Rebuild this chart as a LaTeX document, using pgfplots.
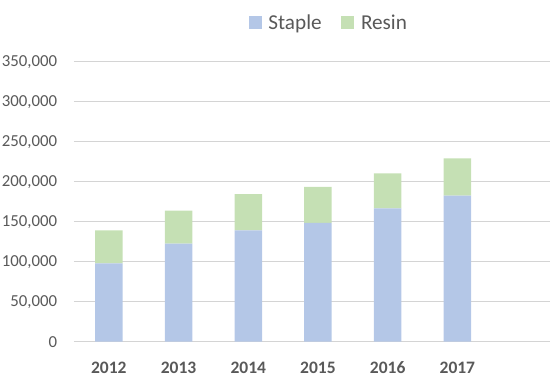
\documentclass[border=0pt]{standalone}
\usepackage{pgfplots}
\pgfplotsset{compat=1.18}
\usepackage{fontspec}
\setmainfont{Carlito}
\definecolor{staple}{HTML}{B4C7E7}
\definecolor{resin}{HTML}{C5E0B4}
\definecolor{gridc}{HTML}{D4D4D4}
\definecolor{txt}{HTML}{595959}
\begin{document}
\begin{tikzpicture}
\useasboundingbox (-74bp,-42.3bp) rectangle (476bp,341.7bp);
\begin{axis}[
  at={(0,0)}, anchor=south west,
  scale only axis, width=476bp, height=280bp,
  ybar stacked, bar width=27.5bp,
  xmin=-0.5, xmax=6.329, ymin=0, ymax=350000,
  xtick={0,1,2,3,4,5},
  xticklabels={2012,2013,2014,2015,2016,2017},
  ytick={0,50000,100000,150000,200000,250000,300000,350000},
  scaled y ticks=false,
  /pgf/number format/assume math mode=true,
  yticklabel style={/pgf/number format/fixed, /pgf/number format/1000 sep={,},
    anchor=east, inner sep=0pt, xshift=-16.7bp, font=\fontsize{16.8bp}{19bp}\selectfont, text=txt},
  xticklabel style={anchor=center, inner sep=0pt, yshift=-25.8bp,
    font=\fontsize{17.5bp}{20bp}\selectfont\bfseries, text=txt},
  major tick length=0pt,
  axis line style={draw=none},
  ymajorgrids, grid style={gridc, line width=1.3bp},
  legend columns=2,
  legend image code/.code={\fill[#1, draw=none] (0bp,-6.2bp) rectangle (13.3bp,6.2bp);},
  legend style={draw=none, fill=none, at={(0.3662,1.14)}, anchor=west,
    inner sep=0pt, column sep=6.6bp, /tikz/column 2/.style={column sep=19.4bp},
    nodes={inner sep=0pt, anchor=west, text=txt, font=\fontsize{21.2bp}{24bp}\selectfont}},
]
\addplot[fill=staple, draw=none] coordinates {(0,98000) (1,122500) (2,139250) (3,148400) (4,166700) (5,182500)};
\addplot[fill=resin, draw=none] coordinates {(0,41250) (1,41250) (2,45350) (3,45000) (4,43800) (5,46750)};
\legend{Staple, Resin}
\end{axis}
\end{tikzpicture}
\end{document}
